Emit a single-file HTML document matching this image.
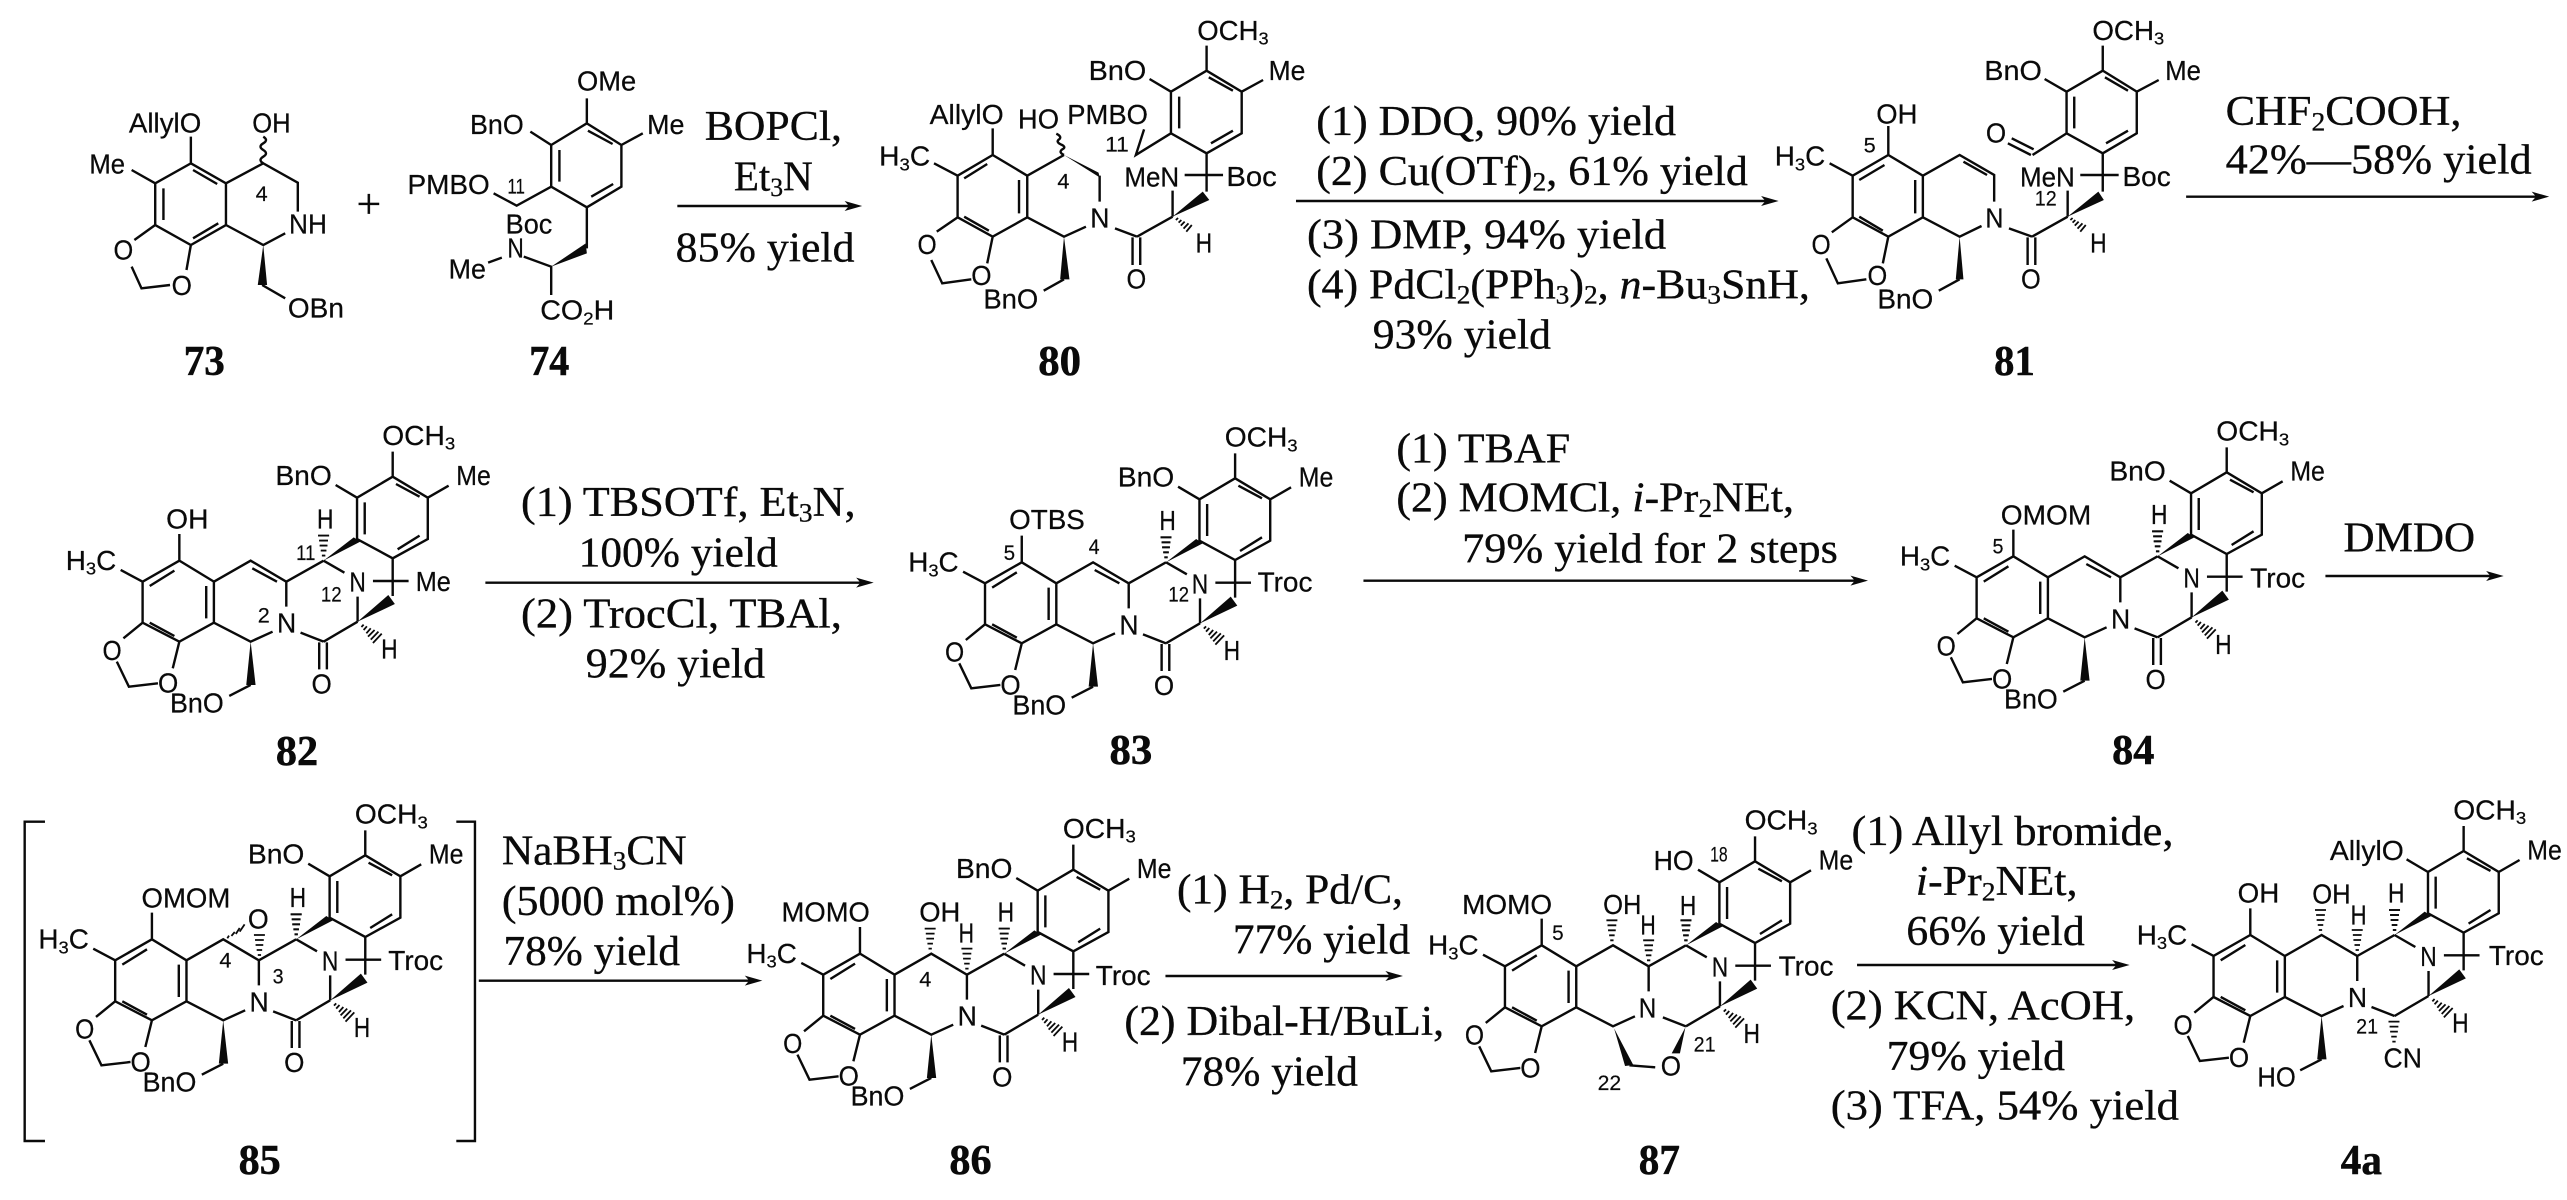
<!DOCTYPE html>
<html><head><meta charset="utf-8"><title>Synthesis scheme</title>
<style>
html,body{margin:0;padding:0;background:#fff}
svg{display:block}
.l{fill:none;stroke:#0a0a0a;stroke-width:2.4;vector-effect:non-scaling-stroke}
.h{fill:none;stroke:#0a0a0a;stroke-width:1.8;vector-effect:non-scaling-stroke}
.f{fill:#0a0a0a;stroke:none}
text{fill:#0a0a0a;white-space:pre}
.s{font-family:"Liberation Sans",sans-serif;font-size:82px;stroke:#0a0a0a;stroke-width:.7px}
.n{font-family:"Liberation Sans",sans-serif;font-size:64px;stroke:#0a0a0a;stroke-width:.5px}
.r{font-family:"Liberation Serif",serif;font-size:128px;stroke:#0a0a0a;stroke-width:1px}
.b{font-family:"Liberation Serif",serif;font-size:128px;font-weight:bold;stroke:#0a0a0a;stroke-width:1.6px}
</style></head><body>
<svg xmlns="http://www.w3.org/2000/svg" width="2567" height="1200" viewBox="0 0 2567 1200">
<defs>
<g id="A"><path class="l" d="M327,512L390,575V698L327,755L260,698V575ZM273,588L318,542M376,588V685M273,698L318,738M327,512V432M260,575L220,540M260,698L225,745M213,815L235,890L288,880M315,835L327,755"/></g>
<g id="B"><path class="l" d="M716,260L780,323V447L716,505L651,447V323ZM722,282L765,320M765,437L725,478M665,337V433M716,260V185M651,323L612,285M780,323L818,287M716,505V618M680,573H745M652,620V695M652,695L590,755M548,728L590,755M590,512L628,548M522,575L590,512"/>
<polygon class="f" points="590,512 645,442 657,455"/><polygon class="f" points="652,695 708,615 720,642"/>
<path class="h" d="M587,497h6M585,482h10M583,467h14M582,452h16M580,437h20"/>
<path class="h" d="M659,711L663,704M663,720L669,709M668,730L676,715M671,740L683,720M676,749L690,725M680,759L696,731"/></g>
<g id="C"><path class="l" d="M390,575L457,512L522,575V650M497,725L457,755L390,698"/></g>
<g id="D"><path class="l" d="M460,535L505,575"/></g>
<g id="W"><polygon class="f" points="457,755 449,885 466,885"/><path class="l" d="M457,885L418,918"/></g>
<g id="O"><path class="l" d="M582,757V838M596,757V838"/></g>
<path id="hv" class="h" d="M-3,-15h6M-5,-30h10M-7,-45h14M-8,-60h16M-10,-75h20"/>
<polygon id="ah" class="f" points="0,0 -32,-15 -24,0 -32,15"/>
</defs>
<g transform="scale(.54845,.33333)">

<!-- Panel 1 -->
<path class="l" d="M348,490L412,550V675L348,735L283,675V550ZM352,510L396,552M398,670L352,715M298,565V660M348,490V410M283,550L240,510M412,550L480,490L543,548V635M520,700L480,735L412,675M283,675L245,720M240,800L258,865L310,855M340,810L348,735M480,490q-10,-10 0,-20q10,-10 0,-20q-10,-10 0,-20q10,-10 0,-20M478,855L520,895"/>
<polygon class="f" points="480,735 470,855 487,855"/>
<text x="235" y="398" textLength="132" lengthAdjust="spacingAndGlyphs" class="s">AllylO</text>
<text x="460" y="398" textLength="70" lengthAdjust="spacingAndGlyphs" class="s">OH</text>
<text x="163" y="520" textLength="65" lengthAdjust="spacingAndGlyphs" class="s">Me</text>
<text x="466" y="603" textLength="22" lengthAdjust="spacingAndGlyphs" class="n">4</text>
<text x="527" y="700" textLength="69" lengthAdjust="spacingAndGlyphs" class="s">NH</text>
<text x="207" y="778" textLength="36" lengthAdjust="spacingAndGlyphs" class="s">O</text>
<text x="313" y="885" textLength="37" lengthAdjust="spacingAndGlyphs" class="s">O</text>
<text x="525" y="952" textLength="102" lengthAdjust="spacingAndGlyphs" class="s">OBn</text>
<text x="650" y="654" textLength="45" lengthAdjust="spacingAndGlyphs" class="r">+</text>
<path class="l" d="M1070,370L1133,435V560L1070,622L1005,560V435ZM1072,392L1117,432M1118,552L1078,590M1020,450V545M1070,370V295M1133,435L1172,400M1005,435L967,395M1005,560L942,617L900,580M1070,622V745M915,773L890,788M955,770L1005,800V885"/>
<polygon class="f" points="1005,800 1068,730 1070,760"/>
<text x="1052" y="272" textLength="108" lengthAdjust="spacingAndGlyphs" class="s">OMe</text>
<text x="1180" y="402" textLength="68" lengthAdjust="spacingAndGlyphs" class="s">Me</text>
<text x="857" y="402" textLength="98" lengthAdjust="spacingAndGlyphs" class="s">BnO</text>
<text x="743" y="582" textLength="150" lengthAdjust="spacingAndGlyphs" class="s">PMBO</text>
<text x="925" y="580" textLength="32" lengthAdjust="spacingAndGlyphs" class="n">11</text>
<text x="922" y="700" textLength="85" lengthAdjust="spacingAndGlyphs" class="s">Boc</text>
<text x="925" y="773" textLength="30" lengthAdjust="spacingAndGlyphs" class="s">N</text>
<text x="818" y="835" textLength="68" lengthAdjust="spacingAndGlyphs" class="s">Me</text>
<text x="985" y="958" textLength="135" lengthAdjust="spacingAndGlyphs" class="s">CO<tspan font-size="54" dy="16">2</tspan><tspan dy="-16">H</tspan></text>
<text x="1285" y="420" textLength="250" lengthAdjust="spacingAndGlyphs" class="r">BOPCl,</text>
<text x="1338" y="572" textLength="144" lengthAdjust="spacingAndGlyphs" class="r">Et<tspan font-size="80" dy="16">3</tspan><tspan dy="-16">N</tspan></text>
<path class="l" d="M1235,618H1550"/><use href="#ah" x="1572" y="618"/>
<text x="1232" y="785" textLength="326" lengthAdjust="spacingAndGlyphs" class="r">85% yield</text>
<text x="335" y="1125" textLength="75" lengthAdjust="spacingAndGlyphs" class="b">73</text>
<text x="965" y="1125" textLength="73" lengthAdjust="spacingAndGlyphs" class="b">74</text>

<!-- Panel 2 : 80 -->
<g transform="translate(1568,0)">
<path class="l" d="M242,465L305,527V652L242,710L178,652V527ZM190,535L232,492M290,540V640M190,650L235,692M242,465V385M178,527L135,490M305,527L372,465M437,527V605M412,680L372,710L305,652M372,465q-10,-8 -4,-16q10,-8 -2,-16q-10,-8 -2,-16q4,-8 -6,-16M518,388L503,465L567,400M632,212L696,275V400L632,460L567,400V275ZM636,232L680,272M680,392L640,430M582,290V385M632,212V137M567,275L528,237M696,275L735,240M632,460V575M592,525H662M570,572V650M570,650L505,710M465,685L505,710M497,712V795M511,712V795M372,838L335,872M178,652L140,695M130,780L150,850L203,838M232,790L242,710"/>
<polygon class="f" points="372,465 435,518 437,532"/>
<polygon class="f" points="570,650 625,575 637,600"/>
<polygon class="f" points="372,710 365,838 382,838"/>
<path class="h" d="M576,660L580,654M581,668L586,660M585,677L592,665M590,686L599,670M595,695L605,675"/>
<text x="35" y="497" textLength="93" lengthAdjust="spacingAndGlyphs" class="s">H<tspan font-size="54" dy="14">3</tspan><tspan dy="-14">C</tspan></text>
<text x="127" y="372" textLength="135" lengthAdjust="spacingAndGlyphs" class="s">AllylO</text>
<text x="288" y="385" textLength="75" lengthAdjust="spacingAndGlyphs" class="s">HO</text>
<text x="378" y="372" textLength="147" lengthAdjust="spacingAndGlyphs" class="s">PMBO</text>
<text x="360" y="565" textLength="22" lengthAdjust="spacingAndGlyphs" class="n">4</text>
<text x="447" y="455" textLength="43" lengthAdjust="spacingAndGlyphs" class="n">11</text>
<text x="420" y="682" textLength="35" lengthAdjust="spacingAndGlyphs" class="s">N</text>
<text x="615" y="120" textLength="130" lengthAdjust="spacingAndGlyphs" class="s">OCH<tspan font-size="54" dy="14">3</tspan></text>
<text x="417" y="240" textLength="105" lengthAdjust="spacingAndGlyphs" class="s">BnO</text>
<text x="745" y="240" textLength="67" lengthAdjust="spacingAndGlyphs" class="s">Me</text>
<text x="482" y="560" textLength="100" lengthAdjust="spacingAndGlyphs" class="s">MeN</text>
<text x="668" y="558" textLength="92" lengthAdjust="spacingAndGlyphs" class="s">Boc</text>
<text x="486" y="865" textLength="36" lengthAdjust="spacingAndGlyphs" class="s">O</text>
<text x="612" y="758" textLength="30" lengthAdjust="spacingAndGlyphs" class="s">H</text>
<text x="225" y="925" textLength="100" lengthAdjust="spacingAndGlyphs" class="s">BnO</text>
<text x="105" y="762" textLength="35" lengthAdjust="spacingAndGlyphs" class="s">O</text>
<text x="203" y="855" textLength="37" lengthAdjust="spacingAndGlyphs" class="s">O</text>
<text x="832" y="405" textLength="656" lengthAdjust="spacingAndGlyphs" class="r">(1) DDQ, 90% yield</text>
<text x="832" y="555" textLength="787" lengthAdjust="spacingAndGlyphs" class="r">(2) Cu(OTf)<tspan font-size="80" dy="16">2</tspan><tspan dy="-16">, 61% yield</tspan></text>
<path class="l" d="M795,603H1655"/><use href="#ah" x="1675" y="603"/>
<text x="815" y="745" textLength="655" lengthAdjust="spacingAndGlyphs" class="r">(3) DMP, 94% yield</text>
<text x="815" y="895" textLength="917" lengthAdjust="spacingAndGlyphs" class="r">(4) PdCl<tspan font-size="80" dy="16">2</tspan><tspan dy="-16">(PPh</tspan><tspan font-size="80" dy="16">3</tspan><tspan dy="-16">)</tspan><tspan font-size="80" dy="16">2</tspan><tspan dy="-16">, </tspan><tspan font-style="italic">n</tspan>-Bu<tspan font-size="80" dy="16">3</tspan><tspan dy="-16">SnH,</tspan></text>
<text x="935" y="1045" textLength="325" lengthAdjust="spacingAndGlyphs" class="r">93% yield</text>
<text x="325" y="1125" textLength="78" lengthAdjust="spacingAndGlyphs" class="b">80</text>
</g>

<!-- Panel 3 : 81 -->
<g transform="translate(3118,0)">
<path class="l" d="M325,465L388,527V652L325,710L260,652V527ZM272,540L318,495M374,540V640M272,650L315,692M325,465V378M260,527L218,490M388,527L455,465L518,525V605M462,485L505,525M495,678L455,710L388,652M455,838L417,872M260,652L222,697M212,775L233,850L285,838M315,790L325,710M716,212L778,275V400L716,460L650,400V275ZM720,232L762,272M762,392L722,430M664,290V385M716,212V137M650,275L610,237M778,275L818,240M650,400L588,465M590,448L550,415M585,465L543,430M716,460V575M675,525H745M652,572V650M652,650L587,710M545,685L587,710M579,712V795M593,712V795"/>
<polygon class="f" points="455,710 448,838 462,838"/>
<polygon class="f" points="652,650 708,575 718,600"/>
<path class="h" d="M657,660L661,654M661,668L666,660M665,677L672,665M670,686L679,670M675,695L685,675"/>
<text x="303" y="370" textLength="75" lengthAdjust="spacingAndGlyphs" class="s">OH</text>
<text x="280" y="458" textLength="22" lengthAdjust="spacingAndGlyphs" class="n">5</text>
<text x="118" y="497" textLength="92" lengthAdjust="spacingAndGlyphs" class="s">H<tspan font-size="54" dy="14">3</tspan><tspan dy="-14">C</tspan></text>
<text x="502" y="682" textLength="33" lengthAdjust="spacingAndGlyphs" class="s">N</text>
<text x="305" y="925" textLength="102" lengthAdjust="spacingAndGlyphs" class="s">BnO</text>
<text x="185" y="762" textLength="35" lengthAdjust="spacingAndGlyphs" class="s">O</text>
<text x="287" y="855" textLength="36" lengthAdjust="spacingAndGlyphs" class="s">O</text>
<text x="697" y="120" textLength="131" lengthAdjust="spacingAndGlyphs" class="s">OCH<tspan font-size="54" dy="14">3</tspan></text>
<text x="500" y="240" textLength="105" lengthAdjust="spacingAndGlyphs" class="s">BnO</text>
<text x="830" y="240" textLength="65" lengthAdjust="spacingAndGlyphs" class="s">Me</text>
<text x="503" y="428" textLength="37" lengthAdjust="spacingAndGlyphs" class="s">O</text>
<text x="565" y="560" textLength="100" lengthAdjust="spacingAndGlyphs" class="s">MeN</text>
<text x="752" y="558" textLength="88" lengthAdjust="spacingAndGlyphs" class="s">Boc</text>
<text x="592" y="617" textLength="40" lengthAdjust="spacingAndGlyphs" class="n">12</text>
<text x="567" y="865" textLength="36" lengthAdjust="spacingAndGlyphs" class="s">O</text>
<text x="693" y="758" textLength="30" lengthAdjust="spacingAndGlyphs" class="s">H</text>
<text x="518" y="1125" textLength="74" lengthAdjust="spacingAndGlyphs" class="b">81</text>
<text x="940" y="375" textLength="430" lengthAdjust="spacingAndGlyphs" class="r">CHF<tspan font-size="80" dy="16">2</tspan><tspan dy="-16">COOH,</tspan></text>
<text x="940" y="520" textLength="558" lengthAdjust="spacingAndGlyphs" class="r">42%—58% yield</text>
<path class="l" d="M868,590H1510"/><use href="#ah" x="1530" y="590"/>
</g>

<!-- Compound 82 -->
<g transform="translate(0,1170)">
<use href="#A"/><use href="#B"/><use href="#C"/><use href="#D"/><use href="#W"/><use href="#O"/><use href="#hv" x="590" y="512"/>
<text x="697" y="165" textLength="133" lengthAdjust="spacingAndGlyphs" class="s">OCH<tspan font-size="54" dy="14">3</tspan></text>
<text x="502" y="285" textLength="103" lengthAdjust="spacingAndGlyphs" class="s">BnO</text>
<text x="832" y="285" textLength="63" lengthAdjust="spacingAndGlyphs" class="s">Me</text>
<text x="120" y="540" textLength="92" lengthAdjust="spacingAndGlyphs" class="s">H<tspan font-size="54" dy="14">3</tspan><tspan dy="-14">C</tspan></text>
<text x="303" y="415" textLength="77" lengthAdjust="spacingAndGlyphs" class="s">OH</text>
<text x="578" y="415" textLength="30" lengthAdjust="spacingAndGlyphs" class="s">H</text>
<text x="540" y="510" textLength="35" lengthAdjust="spacingAndGlyphs" class="n">11</text>
<text x="637" y="605" textLength="30" lengthAdjust="spacingAndGlyphs" class="s">N</text>
<text x="585" y="635" textLength="38" lengthAdjust="spacingAndGlyphs" class="n">12</text>
<text x="758" y="603" textLength="64" lengthAdjust="spacingAndGlyphs" class="s">Me</text>
<text x="505" y="728" textLength="35" lengthAdjust="spacingAndGlyphs" class="s">N</text>
<text x="470" y="698" textLength="22" lengthAdjust="spacingAndGlyphs" class="n">2</text>
<text x="695" y="805" textLength="30" lengthAdjust="spacingAndGlyphs" class="s">H</text>
<text x="187" y="810" textLength="35" lengthAdjust="spacingAndGlyphs" class="s">O</text>
<text x="288" y="908" textLength="37" lengthAdjust="spacingAndGlyphs" class="s">O</text>
<text x="568" y="910" textLength="37" lengthAdjust="spacingAndGlyphs" class="s">O</text>
<text x="310" y="968" textLength="98" lengthAdjust="spacingAndGlyphs" class="s">BnO</text>
<text x="503" y="1125" textLength="77" lengthAdjust="spacingAndGlyphs" class="b">82</text>
<text x="950" y="378" textLength="610" lengthAdjust="spacingAndGlyphs" class="r">(1) TBSOTf, Et<tspan font-size="80" dy="16">3</tspan><tspan dy="-16">N,</tspan></text>
<text x="1055" y="530" textLength="363" lengthAdjust="spacingAndGlyphs" class="r">100% yield</text>
<text x="950" y="712" textLength="585" lengthAdjust="spacingAndGlyphs" class="r">(2) TrocCl, TBAl,</text>
<text x="1068" y="862" textLength="327" lengthAdjust="spacingAndGlyphs" class="r">92% yield</text>
<path class="l" d="M885,578H1575"/><use href="#ah" x="1593" y="578"/>
</g>

<!-- Compound 83 -->
<g transform="translate(1536,1175)">
<use href="#A"/><use href="#B"/><use href="#C"/><use href="#D"/><use href="#W"/><use href="#O"/><use href="#hv" x="590" y="512"/>
<text x="697" y="165" textLength="133" lengthAdjust="spacingAndGlyphs" class="s">OCH<tspan font-size="54" dy="14">3</tspan></text>
<text x="502" y="285" textLength="103" lengthAdjust="spacingAndGlyphs" class="s">BnO</text>
<text x="832" y="285" textLength="63" lengthAdjust="spacingAndGlyphs" class="s">Me</text>
<text x="120" y="540" textLength="92" lengthAdjust="spacingAndGlyphs" class="s">H<tspan font-size="54" dy="14">3</tspan><tspan dy="-14">C</tspan></text>
<text x="304" y="412" textLength="138" lengthAdjust="spacingAndGlyphs" class="s">OTBS</text>
<text x="294" y="505" textLength="21" lengthAdjust="spacingAndGlyphs" class="n">5</text>
<text x="449" y="487" textLength="20" lengthAdjust="spacingAndGlyphs" class="n">4</text>
<text x="578" y="415" textLength="30" lengthAdjust="spacingAndGlyphs" class="s">H</text>
<text x="637" y="605" textLength="30" lengthAdjust="spacingAndGlyphs" class="s">N</text>
<text x="594" y="630" textLength="38" lengthAdjust="spacingAndGlyphs" class="n">12</text>
<text x="757" y="600" textLength="100" lengthAdjust="spacingAndGlyphs" class="s">Troc</text>
<text x="505" y="728" textLength="35" lengthAdjust="spacingAndGlyphs" class="s">N</text>
<text x="695" y="805" textLength="30" lengthAdjust="spacingAndGlyphs" class="s">H</text>
<text x="187" y="810" textLength="35" lengthAdjust="spacingAndGlyphs" class="s">O</text>
<text x="288" y="908" textLength="37" lengthAdjust="spacingAndGlyphs" class="s">O</text>
<text x="568" y="910" textLength="37" lengthAdjust="spacingAndGlyphs" class="s">O</text>
<text x="310" y="968" textLength="98" lengthAdjust="spacingAndGlyphs" class="s">BnO</text>
</g>
<g transform="translate(1568,1170)">
<text x="455" y="1122" textLength="78" lengthAdjust="spacingAndGlyphs" class="b">83</text>
<text x="978" y="218" textLength="317" lengthAdjust="spacingAndGlyphs" class="r">(1) TBAF</text>
<text x="978" y="365" textLength="725" lengthAdjust="spacingAndGlyphs" class="r">(2) MOMCl, <tspan font-style="italic">i</tspan>-Pr<tspan font-size="80" dy="16">2</tspan><tspan dy="-16">NEt,</tspan></text>
<text x="1098" y="517" textLength="685" lengthAdjust="spacingAndGlyphs" class="r">79% yield for 2 steps</text>
<path class="l" d="M918,572H1818"/><use href="#ah" x="1838" y="572"/>
</g>

<!-- Compound 84 -->
<g transform="translate(3344,1157)">
<use href="#A"/><use href="#B"/><use href="#C"/><use href="#D"/><use href="#W"/><use href="#O"/><use href="#hv" x="590" y="512"/>
<text x="697" y="165" textLength="133" lengthAdjust="spacingAndGlyphs" class="s">OCH<tspan font-size="54" dy="14">3</tspan></text>
<text x="502" y="285" textLength="103" lengthAdjust="spacingAndGlyphs" class="s">BnO</text>
<text x="832" y="285" textLength="63" lengthAdjust="spacingAndGlyphs" class="s">Me</text>
<text x="120" y="540" textLength="92" lengthAdjust="spacingAndGlyphs" class="s">H<tspan font-size="54" dy="14">3</tspan><tspan dy="-14">C</tspan></text>
<text x="304" y="416" textLength="165" lengthAdjust="spacingAndGlyphs" class="s">OMOM</text>
<text x="289" y="503" textLength="20" lengthAdjust="spacingAndGlyphs" class="n">5</text>
<text x="578" y="415" textLength="30" lengthAdjust="spacingAndGlyphs" class="s">H</text>
<text x="637" y="605" textLength="30" lengthAdjust="spacingAndGlyphs" class="s">N</text>
<text x="759" y="605" textLength="100" lengthAdjust="spacingAndGlyphs" class="s">Troc</text>
<text x="505" y="728" textLength="35" lengthAdjust="spacingAndGlyphs" class="s">N</text>
<text x="695" y="805" textLength="30" lengthAdjust="spacingAndGlyphs" class="s">H</text>
<text x="187" y="810" textLength="35" lengthAdjust="spacingAndGlyphs" class="s">O</text>
<text x="288" y="908" textLength="37" lengthAdjust="spacingAndGlyphs" class="s">O</text>
<text x="568" y="910" textLength="37" lengthAdjust="spacingAndGlyphs" class="s">O</text>
<text x="310" y="968" textLength="98" lengthAdjust="spacingAndGlyphs" class="s">BnO</text>
</g>
<g transform="translate(3118,1170)">
<text x="733" y="1122" textLength="77" lengthAdjust="spacingAndGlyphs" class="b">84</text>
<text x="1155" y="485" textLength="240" lengthAdjust="spacingAndGlyphs" class="r">DMDO</text>
<path class="l" d="M1122,558H1427"/><use href="#ah" x="1447" y="558"/>
</g>

<!-- Compound 85 -->
<g transform="translate(-50,2306)">
<use href="#A"/><use href="#B"/><use href="#C"/><use href="#W"/><use href="#O"/><use href="#hv" x="590" y="512"/><use href="#hv" x="523" y="574"/>
<text x="697" y="165" textLength="133" lengthAdjust="spacingAndGlyphs" class="s">OCH<tspan font-size="54" dy="14">3</tspan></text>
<text x="502" y="285" textLength="103" lengthAdjust="spacingAndGlyphs" class="s">BnO</text>
<text x="832" y="285" textLength="63" lengthAdjust="spacingAndGlyphs" class="s">Me</text>
<text x="120" y="540" textLength="92" lengthAdjust="spacingAndGlyphs" class="s">H<tspan font-size="54" dy="14">3</tspan><tspan dy="-14">C</tspan></text>
<text x="308" y="416" textLength="162" lengthAdjust="spacingAndGlyphs" class="s">OMOM</text>
<text x="578" y="415" textLength="30" lengthAdjust="spacingAndGlyphs" class="s">H</text>
<text x="637" y="605" textLength="30" lengthAdjust="spacingAndGlyphs" class="s">N</text>
<text x="758" y="604" textLength="100" lengthAdjust="spacingAndGlyphs" class="s">Troc</text>
<text x="505" y="728" textLength="35" lengthAdjust="spacingAndGlyphs" class="s">N</text>
<text x="695" y="805" textLength="30" lengthAdjust="spacingAndGlyphs" class="s">H</text>
<text x="187" y="810" textLength="35" lengthAdjust="spacingAndGlyphs" class="s">O</text>
<text x="288" y="908" textLength="37" lengthAdjust="spacingAndGlyphs" class="s">O</text>
<text x="568" y="910" textLength="37" lengthAdjust="spacingAndGlyphs" class="s">O</text>
<text x="310" y="968" textLength="98" lengthAdjust="spacingAndGlyphs" class="s">BnO</text>
</g>
<g transform="translate(0,2370)">
<path class="l" d="M82,95H45V1053H82M832,95H866V1053H832"/>
<path class="h" d="M414.5,445L417.5,437M422,438L428,426M430,432L437,414M437,425L446,403"/>
<text x="452" y="415" textLength="38" lengthAdjust="spacingAndGlyphs" class="s">O</text>
<text x="400" y="533" textLength="22" lengthAdjust="spacingAndGlyphs" class="n">4</text>
<text x="497" y="580" textLength="20" lengthAdjust="spacingAndGlyphs" class="n">3</text>
<text x="435" y="1152" textLength="77" lengthAdjust="spacingAndGlyphs" class="b">85</text>
<text x="915" y="223" textLength="337" lengthAdjust="spacingAndGlyphs" class="r">NaBH<tspan font-size="80" dy="16">3</tspan><tspan dy="-16">CN</tspan></text>
<text x="915" y="375" textLength="425" lengthAdjust="spacingAndGlyphs" class="r">(5000 mol%)</text>
<text x="918" y="525" textLength="322" lengthAdjust="spacingAndGlyphs" class="r">78% yield</text>
<path class="l" d="M873,572H1370"/><use href="#ah" x="1390" y="572"/>
</g>

<!-- Compound 86 -->
<g transform="translate(1241,2349)">
<use href="#A"/><use href="#B"/><use href="#C"/><use href="#W"/><use href="#O"/><use href="#hv" x="590" y="512"/><use href="#hv" x="455" y="512"/><use href="#hv" x="522" y="572"/>
<text x="697" y="165" textLength="133" lengthAdjust="spacingAndGlyphs" class="s">OCH<tspan font-size="54" dy="14">3</tspan></text>
<text x="502" y="285" textLength="103" lengthAdjust="spacingAndGlyphs" class="s">BnO</text>
<text x="832" y="285" textLength="63" lengthAdjust="spacingAndGlyphs" class="s">Me</text>
<text x="120" y="540" textLength="92" lengthAdjust="spacingAndGlyphs" class="s">H<tspan font-size="54" dy="14">3</tspan><tspan dy="-14">C</tspan></text>
<text x="184" y="416" textLength="161" lengthAdjust="spacingAndGlyphs" class="s">MOMO</text>
<text x="435" y="416" textLength="75" lengthAdjust="spacingAndGlyphs" class="s">OH</text>
<text x="507" y="479" textLength="28" lengthAdjust="spacingAndGlyphs" class="s">H</text>
<text x="578" y="415" textLength="30" lengthAdjust="spacingAndGlyphs" class="s">H</text>
<text x="435" y="611" textLength="22" lengthAdjust="spacingAndGlyphs" class="n">4</text>
<text x="637" y="605" textLength="30" lengthAdjust="spacingAndGlyphs" class="s">N</text>
<text x="757" y="606" textLength="100" lengthAdjust="spacingAndGlyphs" class="s">Troc</text>
<text x="505" y="728" textLength="35" lengthAdjust="spacingAndGlyphs" class="s">N</text>
<text x="695" y="805" textLength="30" lengthAdjust="spacingAndGlyphs" class="s">H</text>
<text x="187" y="810" textLength="35" lengthAdjust="spacingAndGlyphs" class="s">O</text>
<text x="288" y="908" textLength="37" lengthAdjust="spacingAndGlyphs" class="s">O</text>
<text x="568" y="910" textLength="37" lengthAdjust="spacingAndGlyphs" class="s">O</text>
<text x="310" y="968" textLength="98" lengthAdjust="spacingAndGlyphs" class="s">BnO</text>
</g>
<g transform="translate(1568,2370)">
<text x="163" y="1152" textLength="77" lengthAdjust="spacingAndGlyphs" class="b">86</text>
<text x="578" y="340" textLength="412" lengthAdjust="spacingAndGlyphs" class="r">(1) H<tspan font-size="80" dy="16">2</tspan><tspan dy="-16">, Pd/C,</tspan></text>
<text x="680" y="490" textLength="323" lengthAdjust="spacingAndGlyphs" class="r">77% yield</text>
<path class="l" d="M557,558H970"/><use href="#ah" x="990" y="558"/>
<text x="482" y="735" textLength="583" lengthAdjust="spacingAndGlyphs" class="r">(2) Dibal-H/BuLi,</text>
<text x="585" y="887" textLength="323" lengthAdjust="spacingAndGlyphs" class="r">78% yield</text>
<text x="1420" y="1152" textLength="75" lengthAdjust="spacingAndGlyphs" class="b">87</text>
</g>

<!-- Compound 87 -->
<g transform="translate(2484,2324)">
<use href="#A"/><use href="#B"/><use href="#C"/><use href="#hv" x="590" y="512"/><use href="#hv" x="455" y="512"/><use href="#hv" x="522" y="572"/>
<polygon class="f" points="459,761 479,874 494,871"/>
<path class="l" d="M487,872L534,878"/>
<polygon class="f" points="589,758 564,836 579,836"/>
<text x="697" y="165" textLength="133" lengthAdjust="spacingAndGlyphs" class="s">OCH<tspan font-size="54" dy="14">3</tspan></text>
<text x="531" y="286" textLength="73" lengthAdjust="spacingAndGlyphs" class="s">HO</text>
<text x="634" y="261" textLength="32" lengthAdjust="spacingAndGlyphs" class="n">18</text>
<text x="832" y="285" textLength="63" lengthAdjust="spacingAndGlyphs" class="s">Me</text>
<text x="120" y="540" textLength="92" lengthAdjust="spacingAndGlyphs" class="s">H<tspan font-size="54" dy="14">3</tspan><tspan dy="-14">C</tspan></text>
<text x="182" y="418" textLength="164" lengthAdjust="spacingAndGlyphs" class="s">MOMO</text>
<text x="346" y="496" textLength="21" lengthAdjust="spacingAndGlyphs" class="n">5</text>
<text x="439" y="418" textLength="70" lengthAdjust="spacingAndGlyphs" class="s">OH</text>
<text x="507" y="479" textLength="28" lengthAdjust="spacingAndGlyphs" class="s">H</text>
<text x="579" y="421" textLength="30" lengthAdjust="spacingAndGlyphs" class="s">H</text>
<text x="637" y="605" textLength="30" lengthAdjust="spacingAndGlyphs" class="s">N</text>
<text x="759" y="603" textLength="100" lengthAdjust="spacingAndGlyphs" class="s">Troc</text>
<text x="504" y="728" textLength="32" lengthAdjust="spacingAndGlyphs" class="s">N</text>
<text x="695" y="805" textLength="30" lengthAdjust="spacingAndGlyphs" class="s">H</text>
<text x="187" y="810" textLength="35" lengthAdjust="spacingAndGlyphs" class="s">O</text>
<text x="288" y="908" textLength="37" lengthAdjust="spacingAndGlyphs" class="s">O</text>
<text x="544" y="903" textLength="37" lengthAdjust="spacingAndGlyphs" class="s">O</text>
<text x="604" y="831" textLength="40" lengthAdjust="spacingAndGlyphs" class="n">21</text>
<text x="429" y="946" textLength="43" lengthAdjust="spacingAndGlyphs" class="n">22</text>
</g>

<!-- Panel 9 reagents -->
<g transform="translate(3118,2370)">
<text x="258" y="165" textLength="587" lengthAdjust="spacingAndGlyphs" class="r">(1) Allyl bromide,</text>
<text x="375" y="315" textLength="295" lengthAdjust="spacingAndGlyphs" class="r"><tspan font-style="italic">i</tspan>-Pr<tspan font-size="80" dy="16">2</tspan><tspan dy="-16">NEt,</tspan></text>
<text x="358" y="465" textLength="325" lengthAdjust="spacingAndGlyphs" class="r">66% yield</text>
<path class="l" d="M268,525H745"/><use href="#ah" x="765" y="525"/>
<text x="220" y="688" textLength="555" lengthAdjust="spacingAndGlyphs" class="r">(2) KCN, AcOH,</text>
<text x="322" y="840" textLength="325" lengthAdjust="spacingAndGlyphs" class="r">79% yield</text>
<text x="220" y="988" textLength="635" lengthAdjust="spacingAndGlyphs" class="r">(3) TFA, 54% yield</text>
<text x="1150" y="1152" textLength="75" lengthAdjust="spacingAndGlyphs" class="b">4a</text>
</g>

<!-- Compound 4a -->
<g transform="translate(3776,2293)">
<use href="#A"/><use href="#B"/><use href="#C"/><use href="#W"/><use href="#hv" x="590" y="512"/><use href="#hv" x="455" y="512"/><use href="#hv" x="522" y="572"/><use href="#hv" x="589" y="847"/>
<text x="697" y="165" textLength="133" lengthAdjust="spacingAndGlyphs" class="s">OCH<tspan font-size="54" dy="14">3</tspan></text>
<text x="472" y="287" textLength="135" lengthAdjust="spacingAndGlyphs" class="s">AllylO</text>
<text x="832" y="285" textLength="63" lengthAdjust="spacingAndGlyphs" class="s">Me</text>
<text x="120" y="540" textLength="92" lengthAdjust="spacingAndGlyphs" class="s">H<tspan font-size="54" dy="14">3</tspan><tspan dy="-14">C</tspan></text>
<text x="304" y="415" textLength="76" lengthAdjust="spacingAndGlyphs" class="s">OH</text>
<text x="440" y="417" textLength="70" lengthAdjust="spacingAndGlyphs" class="s">OH</text>
<text x="510" y="480" textLength="29" lengthAdjust="spacingAndGlyphs" class="s">H</text>
<text x="578" y="415" textLength="30" lengthAdjust="spacingAndGlyphs" class="s">H</text>
<text x="637" y="605" textLength="30" lengthAdjust="spacingAndGlyphs" class="s">N</text>
<text x="762" y="602" textLength="100" lengthAdjust="spacingAndGlyphs" class="s">Troc</text>
<text x="505" y="728" textLength="35" lengthAdjust="spacingAndGlyphs" class="s">N</text>
<text x="695" y="805" textLength="30" lengthAdjust="spacingAndGlyphs" class="s">H</text>
<text x="187" y="810" textLength="35" lengthAdjust="spacingAndGlyphs" class="s">O</text>
<text x="288" y="908" textLength="37" lengthAdjust="spacingAndGlyphs" class="s">O</text>
<text x="520" y="807" textLength="40" lengthAdjust="spacingAndGlyphs" class="n">21</text>
<text x="570" y="910" textLength="70" lengthAdjust="spacingAndGlyphs" class="s">CN</text>
<text x="340" y="967" textLength="70" lengthAdjust="spacingAndGlyphs" class="s">HO</text>
</g>
</g>
</svg>
</body></html>
